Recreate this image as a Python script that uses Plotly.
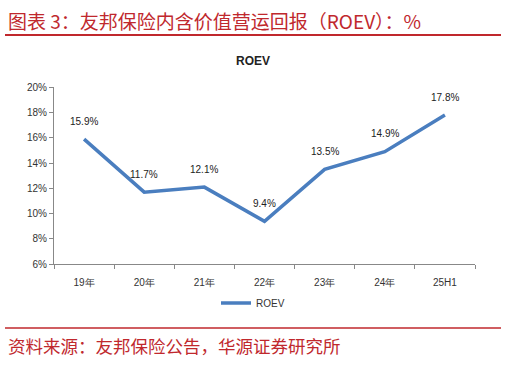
import plotly.graph_objects as go

categories = ["19年", "20年", "21年", "22年", "23年", "24年", "25H1"]
roev = [15.9, 11.7, 12.1, 9.4, 13.5, 14.9, 17.8]
labels = ["15.9%", "11.7%", "12.1%", "9.4%", "13.5%", "14.9%", "17.8%"]
y_ticks = [6, 8, 10, 12, 14, 16, 18, 20]
y_tick_text = ["6%", "8%", "10%", "12%", "14%", "16%", "18%", "20%"]

W, H = 506, 366
red = "#C0282D"
blue = "#4A7EBF"

fig = go.Figure()
fig.add_trace(go.Scatter(
    x=categories, y=roev, mode="lines", name="ROEV",
    line=dict(color=blue, width=3.5),
    cliponaxis=False,
))

label_annots = [
    dict(x=c, y=v, xref="x", yref="y", text=t, showarrow=False, yshift=18,
         font=dict(size=10, color="#222222", family="Liberation Sans, Arial"))
    for c, v, t in zip(categories, roev, labels)
]

fig.update_layout(
    width=W, height=H,
    margin=dict(l=0, r=0, t=0, b=0),
    paper_bgcolor="white", plot_bgcolor="white",
    font=dict(family="Liberation Sans, Arial", size=10, color="#333333"),
    showlegend=True,
    legend=dict(orientation="h", x=0.5, xanchor="center", y=(H - 307) / H, yanchor="middle",
                font=dict(size=10, color="#333333"), bgcolor="rgba(0,0,0,0)"),
    xaxis=dict(
        domain=[54 / W, 475 / W], type="category", range=[-0.5, 6.5],
        showline=True, linecolor="#888888", linewidth=1,
        ticks="outside", tickson="boundaries", ticklen=4, tickcolor="#888888",
        ticklabelstandoff=9,
        showgrid=False, tickfont=dict(size=10, color="#333333"),
    ),
    yaxis=dict(
        domain=[(H - 267) / H, (H - 84) / H], range=[6, 20],
        tickvals=y_ticks, ticktext=y_tick_text,
        showline=True, linecolor="#888888", linewidth=1,
        ticks="outside", ticklen=4, tickcolor="#888888",
        showgrid=False, zeroline=False, tickfont=dict(size=10, color="#333333"),
    ),
    annotations=label_annots + [
        dict(text="<b>ROEV</b>", x=253 / W, y=(H - 57) / H, xref="paper", yref="paper",
             showarrow=False, font=dict(size=12, color="#222222"), xanchor="center", yanchor="middle"),
        dict(text="图表 3：友邦保险内含价值营运回报（ROEV）：%", x=6 / W, y=(H - 15) / H,
             xref="paper", yref="paper", showarrow=False, xanchor="left", yanchor="middle",
             font=dict(size=19, color=red, family="Noto Sans CJK SC")),
        dict(text="资料来源：友邦保险公告，华源证券研究所", x=6 / W, y=(H - 351) / H,
             xref="paper", yref="paper", showarrow=False, xanchor="left", yanchor="middle",
             font=dict(size=17.5, color=red, family="Noto Sans CJK SC")),
    ],
    shapes=[
        dict(type="line", xref="paper", yref="paper", x0=5 / W, x1=501 / W,
             y0=(H - 30) / H, y1=(H - 30) / H, line=dict(color=red, width=2)),
        dict(type="line", xref="paper", yref="paper", x0=5 / W, x1=501 / W,
             y0=(H - 333) / H, y1=(H - 333) / H, line=dict(color=red, width=1.5)),
    ],
)

fig.write_html("out.html")
